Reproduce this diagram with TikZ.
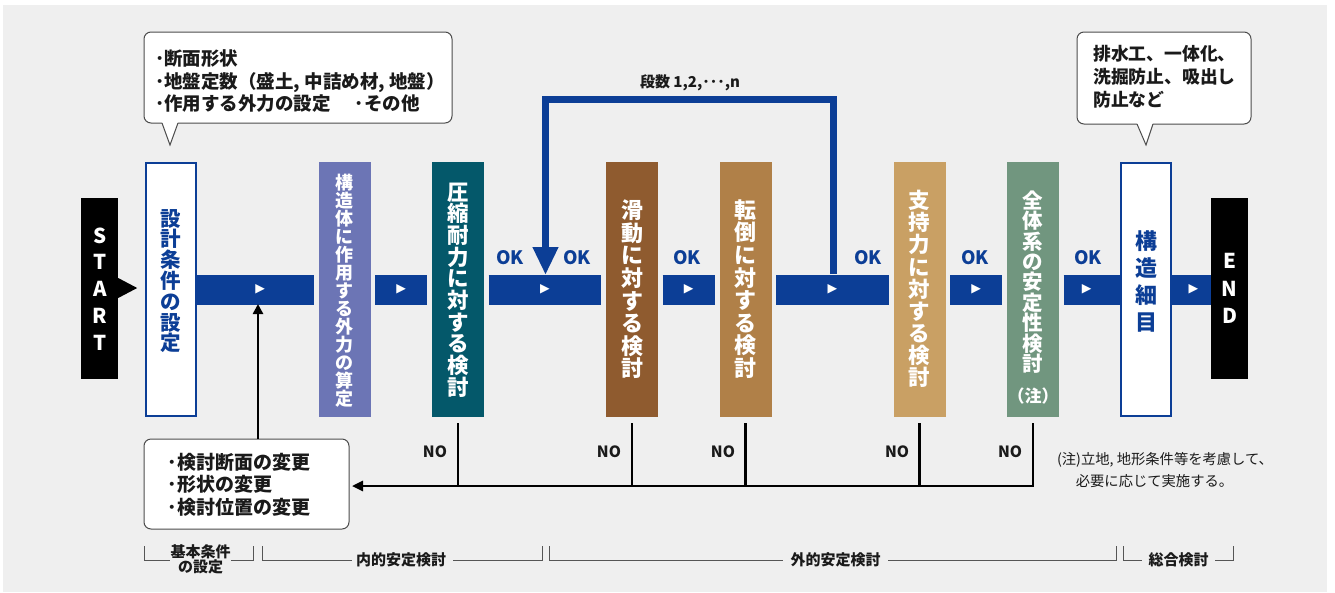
\documentclass[tikz,border=0pt]{standalone}
\usepackage{fontspec}
\setmainfont{Noto Sans CJK JP}
\newfontfamily\symf{DejaVu Sans}
\usetikzlibrary{arrows.meta,calc}
\definecolor{mblue}{HTML}{0C3E96}
\definecolor{cpurple}{HTML}{6C75B5}
\definecolor{cteal}{HTML}{04586A}
\definecolor{cbrown}{HTML}{8F5B2F}
\definecolor{cochre}{HTML}{B08048}
\definecolor{ctan}{HTML}{C9A064}
\definecolor{csage}{HTML}{71967F}
\definecolor{bggray}{HTML}{EFEFEF}
\definecolor{txt}{HTML}{1A1A1A}
\definecolor{brkgray}{HTML}{555555}
\newcommand{\fs}[2]{\fontsize{#1}{#2}\selectfont}
\begin{document}
\begin{tikzpicture}[x=1pt,y=-1pt,
  boxc/.style={minimum width=52pt,minimum height=255pt,inner sep=0pt,draw=none},
  wbox/.style={minimum width=50pt,minimum height=253pt,inner sep=0pt,fill=white,draw=mblue,line width=2pt},
  termbox/.style={minimum width=37pt,minimum height=181pt,inner sep=0pt,fill=black},
  vt/.style={align=center,inner sep=0pt,text=white,font=\bfseries},
  bar/.style={draw=mblue,line width=30pt,shorten <=4.5pt,shorten >=4.5pt},
  barw/.style={draw=mblue,line width=30pt},
  tri/.style={midway,inner sep=0pt,text=white,font=\symf\fs{12.5}{12.5}},
  okl/.style={text=mblue,font=\bfseries\fs{18.5}{19},inner sep=0pt},
  nol/.style={text=txt,font=\bfseries\fs{15.5}{16},inner sep=0pt},
  fb/.style={draw=black,line width=2.5pt},
  callout/.style={draw=black!70,line width=1pt,fill=white,rounded corners=7pt,inner sep=0pt},
  ctext/.style={align=left,inner sep=0pt,text=txt,font=\bfseries\fs{18.5}{22.5},anchor=west},
  brk/.style={draw=brkgray,line width=1pt},
  brl/.style={text=txt,font=\bfseries\fs{15}{13.5},inner sep=0pt,align=center},
  loopl/.style={draw=mblue,line width=7pt,line join=miter}
]
\useasboundingbox (0,0) rectangle (1335,592);
\fill[bggray] (3,5) rectangle (1327,592);

% terminal boxes
\node[termbox] (st) at (99.5,288) {};
\fill (st.east) ++(0,-10) -- ++(19,10) -- ++(-19,10) -- cycle;
\node[vt,font=\bfseries\fs{20.5}{26.8}] (stt) at (100,289) {S\\T\\A\\R\\T};
\node[termbox] (en) at (1229.5,288) {};
\node[vt,font=\bfseries\fs{20.5}{27.5}] (ent) at (1229.5,288.5) {E\\N\\D};

% process boxes
\node[wbox] (b1) at (171,289.5) {};
\node[vt,text=mblue,font=\bfseries\fs{20.5}{20.8}] (b1t) at (171,281) {設\\計\\条\\件\\の\\設\\定};
\node[boxc,fill=cpurple] (b2) at (344.5,289.5) {};
\node[vt,font=\bfseries\fs{18}{18}] (b2t) at (344.5,290.5) {構\\造\\体\\に\\作\\用\\す\\る\\外\\力\\の\\算\\定};
\node[boxc,fill=cteal] (b3) at (458,289.5) {};
\node[vt,font=\bfseries\fs{21.5}{21.7}] (b3t) at (458,290) {圧\\縮\\耐\\力\\に\\対\\す\\る\\検\\討};
\node[boxc,fill=cbrown] (b4) at (632,289.5) {};
\node[vt,font=\bfseries\fs{22}{22.6}] (b4t) at (632,289.5) {滑\\動\\に\\対\\す\\る\\検\\討};
\node[boxc,fill=cochre] (b5) at (745.5,289.5) {};
\node[vt,font=\bfseries\fs{22}{22.6}] (b5t) at (745.5,289) {転\\倒\\に\\対\\す\\る\\検\\討};
\node[boxc,fill=ctan] (b6) at (919.5,289.5) {};
\node[vt,font=\bfseries\fs{21.5}{22.1}] (b6t) at (919.5,289) {支\\持\\力\\に\\対\\す\\る\\検\\討};
\node[boxc,fill=csage] (b7) at (1033,289.5) {};
\node[vt,font=\bfseries\fs{20.5}{20.4}] (b7t) at (1033,282) {全\\体\\系\\の\\安\\定\\性\\検\\討};
\node[vt,font=\bfseries\fs{17}{17}] (b7n) at (1033,396) {（注）};
\node[wbox] (b8) at (1146,289.5) {};
\node[vt,text=mblue,font=\bfseries\fs{22}{27.3}] (b8t) at (1146,281.5) {構\\造\\細\\目};

% main flow bar
\draw[barw,shorten >=4.5pt] (b1.east) -- (b2.west) node[tri,pos=0.52]{▶};
\draw[bar] (b2.east) -- (b3.west) node[tri]{▶};
\draw[bar] (b3.east) -- (b4.west) node[tri]{▶};
\draw[bar] (b4.east) -- (b5.west) node[tri]{▶};
\draw[bar] (b5.east) -- (b6.west) node[tri]{▶};
\draw[bar] (b6.east) -- (b7.west) node[tri]{▶};
\draw[barw,shorten <=4.5pt] (b7.east) -- (b8.west) node[tri,pos=0.45]{▶};
\draw[barw] (b8.east) -- (b8.east -| en.west) node[tri,pos=0.55]{▶};

% loop (stages)
\coordinate (lpR) at (833,274);
\coordinate (lpL) at (545.5,275);
\draw[loopl,-{Triangle[length=28pt,width=24pt]}] (lpR) -- ++(0,-174.5) -| (lpL);
\node[text=txt,font=\bfseries\fs{15}{15},inner sep=0pt] (stg) at (690,83) {段数 1,2,･･･,n};

% OK labels
\node[okl] (ok1) at (510,258) {OK};
\node[okl] (ok2) at (577,258) {OK};
\node[okl] (ok3) at (687,258) {OK};
\node[okl] (ok4) at (868,258) {OK};
\node[okl] (ok5) at (975,258) {OK};
\node[okl] (ok6) at (1088,258) {OK};

% callouts
\node[callout,minimum width=308pt,minimum height=91pt] (c1) at (298,77.5) {};
\fill[white] (161.5,121) -- (178.5,121) -- (177.6,123.6) -- (170,145) -- (162.4,123.6) -- cycle;
\draw[black!70,line width=1pt,line join=miter] (162,123) -- (170,145) -- (178,123);
\node[ctext] (c1t) at (155,81.5) {･断面形状\\･地盤定数（盛土, 中詰め材, 地盤）\\･作用する外力の設定\hspace{24pt}･その他};

\node[callout,minimum width=174pt,minimum height=92pt] (c2) at (1164,78) {};
\fill[white] (1136.5,122) -- (1153.5,122) -- (1152.6,124.6) -- (1146,145) -- (1137.4,124.6) -- cycle;
\draw[black!70,line width=1pt,line join=miter] (1137,124) -- (1146,145) -- (1153,124);
\node[ctext,font=\bfseries\fs{17.8}{23}] (c2t) at (1093,76.5) {排水工、一体化、\\洗掘防止、吸出し\\防止など};

\node[callout,minimum width=205pt,minimum height=90pt] (c3) at (246.5,484) {};
\node[ctext,font=\bfseries\fs{19}{22.5}] (c3t) at (167.5,484.5) {･検討断面の変更\\･形状の変更\\･検討位置の変更};

% feedback (NO) lines
\coordinate (fbEnd) at (352,486);
\draw[fb,-{Triangle[length=11pt,width=10pt]}] ([yshift=-6pt]b7.south) |- (fbEnd);
\foreach \b in {b3,b4,b5,b6} {\draw[fb] ([yshift=-6pt]\b.south) -- (\b.south |- fbEnd);}
\coordinate (upEnd) at (258,304);
\draw[fb,-{Triangle[length=10pt,width=10pt]}] (c3.north -| upEnd) -- (upEnd);
\node[nol] (no3) at (435,452) {NO};
\node[nol] (no4) at (609,452) {NO};
\node[nol] (no5) at (723,452) {NO};
\node[nol] (no6) at (897,452) {NO};
\node[nol] (no7) at (1010,452) {NO};

% note
\node[text=txt,font=\fs{14.3}{15},inner sep=0pt] (nt1) at (1165,460) {(注)立地, 地形条件等を考慮して、};
\node[text=txt,font=\fs{14.3}{15},inner sep=0pt] (nt2) at (1154.5,481) {必要に応じて実施する。};

% brackets
\node[brl] (br1) at (200.5,559.5) {基本条件\\の設定};
\draw[brk] (144,546) -- (144,560) -- (170,560);
\draw[brk] (231,560) -- (253,560) -- (253,546);
\node[brl] (br2) at (401,559.5) {内的安定検討};
\draw[brk] (262,546) -- (262,560) -- (352,560);
\draw[brk] (453,560) -- (542,560) -- (542,546);
\node[brl] (br3) at (835.5,559.5) {外的安定検討};
\draw[brk] (549,546) -- (549,560) -- (783,560);
\draw[brk] (888,560) -- (1116,560) -- (1116,546);
\node[brl] (br4) at (1178.5,559.5) {総合検討};
\draw[brk] (1123,546) -- (1123,560) -- (1142,560);
\draw[brk] (1215,560) -- (1233,560) -- (1233,546);
\end{tikzpicture}
\end{document}
